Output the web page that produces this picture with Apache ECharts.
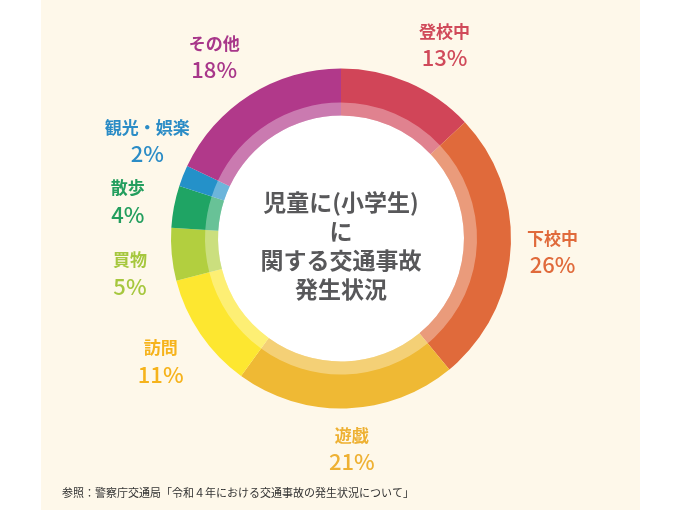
<!DOCTYPE html>
<html lang="ja">
<head>
<meta charset="utf-8">
<title>児童に(小学生)に関する交通事故発生状況</title>
<script src="https://cdn.jsdelivr.net/npm/echarts@6/dist/echarts.min.js"></script>
<style>
  html, body { margin: 0; padding: 0; background: #fff; }
  #chart { width: 682px; height: 512px; }
</style>
</head>
<body>
<div id="chart"></div>
<script>
/* ===== データ ===== */
const categories = ["登校中", "下校中", "遊戯", "訪問", "買物", "散歩", "観光・娯楽", "その他"];
const percents = [13, 26, 21, 11, 5, 4, 2, 18];
const sliceColors = ["#d14558", "#e06a3b", "#efb934", "#fde730", "#b2cf3f", "#1fa464", "#2491c9", "#b1398a"];
const labelColors = ["#d04a5a", "#e06a3b", "#eeb133", "#f6b31c", "#a6c73e", "#239e5e", "#2b8cc6", "#a8378a"];
/* ラベルの微調整（px） */
const labelNudge = [[17, 7], [-6, 0], [4, -7], [0, 1], [6, 15], [1, 4], [9, -17], [-10, 3]];

const centerTitle = "児童に(小学生)\nに\n関する交通事故\n発生状況";
const sourceNote = "参照：警察庁交通局「令和４年における交通事故の発生状況について」";

const FONT = '"Noto Sans CJK JP", "Noto Sans", sans-serif';
const CX = 341, CY = 238.5;

const pieData = categories.map((name, i) => ({
  name: name,
  value: percents[i],
  itemStyle: { color: sliceColors[i] },
}));

const labelData = categories.map((name, i) => ({
  name: name,
  value: percents[i],
  label: {
    offset: labelNudge[i],
    rich: {
      n: { fontSize: 17, fontWeight: "bold", color: labelColors[i], fontFamily: FONT, lineHeight: 25 },
      p: { fontSize: 22, fontWeight: 500, color: labelColors[i], fontFamily: FONT, lineHeight: 28 },
    },
  },
}));

const chart = echarts.init(document.getElementById("chart"), null, { renderer: "canvas" });

chart.setOption({
  animation: false,
  backgroundColor: "#ffffff",
  graphic: [
    {
      type: "rect",
      z: -10,
      shape: { x: 41, y: 0, width: 599, height: 510 },
      style: { fill: "#fef8ea" },
    },
    {
      type: "circle",
      z: -5,
      shape: { cx: CX, cy: CY, r: 124 },
      style: { fill: "#ffffff" },
    },
    {
      type: "text",
      z: 100,
      x: CX,
      y: 246,
      style: {
        text: centerTitle,
        fontFamily: FONT,
        fontSize: 23,
        fontWeight: "bold",
        lineHeight: 29,
        fill: "#58585a",
        align: "center",
        verticalAlign: "middle",
      },
    },
    {
      type: "text",
      z: 100,
      x: 62,
      y: 493,
      style: {
        text: sourceNote,
        fontFamily: FONT,
        fontSize: 11,
        fill: "#333333",
        align: "left",
        verticalAlign: "middle",
      },
    },
  ],
  series: [
    /* 本体のドーナツ */
    {
      type: "pie",
      center: [CX, CY],
      radius: [123, 170],
      startAngle: 90,
      clockwise: true,
      silent: true,
      label: { show: false },
      labelLine: { show: false },
      data: pieData,
    },
    /* 内側の淡い帯 */
    {
      type: "pie",
      center: [CX, CY],
      radius: [123, 136],
      startAngle: 90,
      clockwise: true,
      silent: true,
      itemStyle: { color: "rgba(255,255,255,0.33)" },
      label: { show: false },
      labelLine: { show: false },
      data: percents.map((v, i) => ({ name: categories[i], value: v })),
    },
    /* ラベル用（透明） */
    {
      type: "pie",
      center: [CX, CY],
      radius: [195, 235],
      startAngle: 90,
      clockwise: true,
      silent: true,
      avoidLabelOverlap: false,
      minShowLabelAngle: 0,
      itemStyle: { color: "rgba(0,0,0,0)" },
      label: {
        show: true,
        position: "inside",
        formatter: (p) => `{n|${p.name}}\n{p|${p.value}%}`,
      },
      labelLayout: { hideOverlap: false },
      labelLine: { show: false },
      data: labelData,
    },
  ],
});
</script>
</body>
</html>
